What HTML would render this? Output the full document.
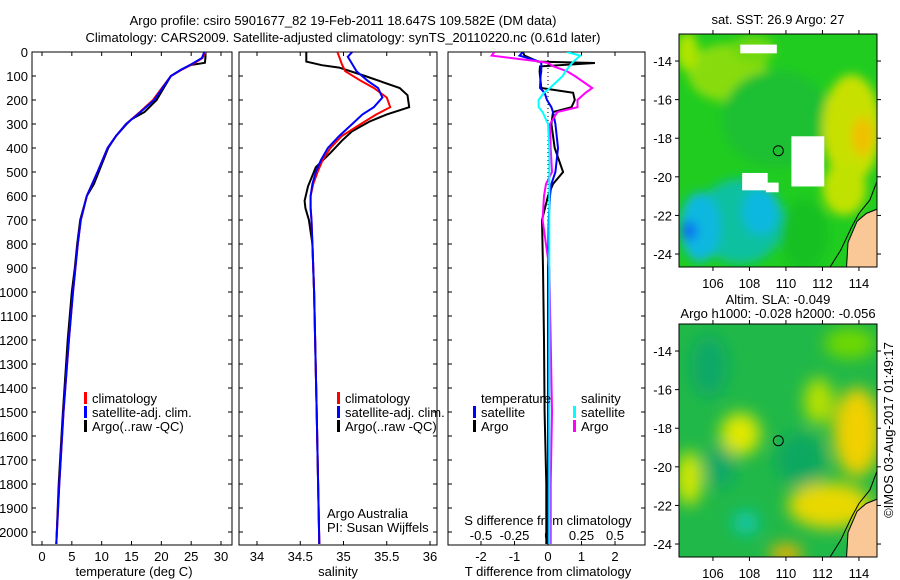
<!DOCTYPE html>
<html><head><meta charset="utf-8"><style>
html,body{margin:0;padding:0;background:#fff;}
svg{display:block;font-family:"Liberation Sans",sans-serif;}
text{font-size:13px;fill:#000;}
</style></head><body>
<svg id="fig" width="900" height="580" viewBox="0 0 900 580" xmlns="http://www.w3.org/2000/svg">
<defs>
<filter id="blur1" x="-50%" y="-50%" width="200%" height="200%"><feGaussianBlur stdDeviation="5"/></filter>
<filter id="blur2" x="-50%" y="-50%" width="200%" height="200%"><feGaussianBlur stdDeviation="8"/></filter>
<clipPath id="clipM1"><rect x="679" y="34" width="198" height="233"/></clipPath>
<clipPath id="clipM2"><rect x="679" y="324" width="198" height="233"/></clipPath>
<clipPath id="clipP1"><rect x="32" y="52" width="200" height="493"/></clipPath>
<clipPath id="clipP2"><rect x="239" y="52" width="198" height="493"/></clipPath>
<clipPath id="clipP3"><rect x="448" y="52" width="197" height="493"/></clipPath>
</defs>
<text x="343" y="25" text-anchor="middle">Argo profile: csiro 5901677_82 19-Feb-2011 18.647S 109.582E (DM data)</text>
<text x="343" y="42" text-anchor="middle">Climatology: CARS2009. Satellite-adjusted climatology: synTS_20110220.nc (0.61d later)</text>
<g id="g1"></g>
<g id="g2"></g>
<g id="g3"></g>
<g id="m1"></g>
<g id="m2"></g>
<text transform="translate(893,430) rotate(-90)" text-anchor="middle">©IMOS 03-Aug-2017 01:49:17</text>
</svg>
<script>
// ---- data ----
const tClimDepth = [0,25,50,75,100,150,200,250,300,350,400,500,600,700,800,900,1000,1200,1500,1800,2050];
const tClim      = [27.4,26.9,25.3,23.3,21.6,20.1,18.6,16.4,14.1,12.4,11.0,9.3,7.5,6.5,6.0,5.6,5.2,4.5,3.6,2.9,2.4];
const tSat       = [27.2,26.8,25.1,23.2,21.6,20.2,18.8,16.5,14.1,12.4,11.0,9.3,7.5,6.5,6.0,5.6,5.2,4.5,3.6,2.9,2.4];
const tArgoDepth = [0,20,45,55,75,100,150,200,250,280,300,350,400,500,550,600,700,800,900,1000,1200,1500,1800,2050];
const tArgo      = [27.4,27.4,27.3,24.8,23.3,21.6,20.4,19.2,17.2,15.0,14.2,12.4,11.1,9.5,8.7,7.5,6.4,5.9,5.5,5.0,4.3,3.5,2.8,2.4];

const sClimDepth = [0,20,50,80,120,150,190,230,260,300,350,400,450,500,550,600,650,700,800,1000,1500,2050];
const sClim      = [34.93,34.95,34.98,35.02,35.20,35.35,35.50,35.54,35.38,35.20,34.98,34.85,34.76,34.70,34.65,34.62,34.62,34.63,34.64,34.66,34.69,34.72];
const sSat       = [35.10,35.05,35.10,35.15,35.28,35.40,35.45,35.35,35.22,35.10,34.95,34.82,34.74,34.68,34.64,34.62,34.62,34.63,34.64,34.66,34.69,34.72];
const sArgoDepth = [0,40,55,65,100,150,180,230,260,290,330,370,420,480,560,620,650,700,800,1000,1500,2050];
const sArgo      = [34.57,34.57,34.75,34.95,35.25,35.65,35.74,35.76,35.50,35.30,35.10,34.98,34.85,34.68,34.59,34.55,34.56,34.60,34.64,34.66,34.69,34.72];

const dDepth  = [0,15,40,46,60,80,100,150,170,200,230,250,300,400,500,550,600,700,900,1200,1500,1800,2050];
const dTArgo  = [-0.75,-0.7,-0.3,1.4,-0.24,-0.25,-0.24,-0.2,0.75,0.8,0.7,0.15,0.1,0.2,0.45,0.15,0.0,-0.18,-0.15,-0.12,-0.1,-0.05,-0.05];
const dTSat   = [-0.75,-0.85,-0.25,-0.2,-0.2,-0.2,-0.22,-0.24,-0.1,-0.03,0.1,0.15,0.22,0.3,0.22,0.1,0.06,0.02,0.0,0.0,0.0,0.0,0.0];
const dSArgo  = [-0.40,-0.42,-0.06,0.00,0.04,0.14,0.20,0.33,0.28,0.22,0.22,0.07,0.015,0.02,0.03,-0.015,-0.03,-0.04,0.01,0.02,0.03,0.02,0.02];
const dSSat   = [0.14,0.24,0.19,0.18,0.16,0.13,0.11,0.015,-0.03,-0.07,-0.07,-0.04,0.0,0.01,0.01,0.01,0.01,0.01,0.01,0.01,0.01,0.01,0.01];

const depthTicks = [0,100,200,300,400,500,600,700,800,900,1000,1100,1200,1300,1400,1500,1600,1700,1800,1900,2000];
const tempTicks = [0,5,10,15,20,25,30];
const salTicks = [34,34.5,35,35.5,36];
const salTickLabels = ["34","34.5","35","35.5","36"];
const tDiffTicks = [-2,-1,0,1,2];
const sDiffTicks = [-0.5,-0.25,0,0.25,0.5];
const sDiffLabels = ["-0.5","-0.25","0","0.25","0.5"];
const lonTicks = [106,108,110,112,114];
const latTicks = [-14,-16,-18,-20,-22,-24];
const argoLon = 109.582, argoLat = -18.647;

// ---- helpers ----
const NS="http://www.w3.org/2000/svg";
function mk(tag, attrs, parent){const e=document.createElementNS(NS,tag);for(const k in attrs)e.setAttribute(k,attrs[k]);parent.appendChild(e);return e;}
function txt(s,x,y,anchor,parent){const t=mk('text',{x:x,y:y,'text-anchor':anchor||'middle'},parent);t.textContent=s;return t;}
const yD = d => 52 + d*0.24;
const xT = v => 42 + v*5.967;
const xS = v => 257 + (v-34)*86.5;
const xTd = v => 548 + v*33.5;
const xSd = v => 548 + v*134;

function poly(parent,xs,ds,xf,color,name,clip){
  const pts = xs.map((v,i)=>xf(v).toFixed(1)+','+yD(ds[i]).toFixed(1)).join(' ');
  const p=mk('polyline',{points:pts,fill:'none',stroke:color,'stroke-width':2,'clip-path':'url(#'+clip+')'},parent);
  
  
}
function frame(g,x0,x1,name){
  const r=mk('rect',{x:x0,y:52,width:x1-x0,height:493,fill:'none',stroke:'#000','stroke-width':1},g);
  
  
  depthTicks.forEach(d=>{
    mk('line',{x1:x0,x2:x0+4,y1:yD(d),y2:yD(d),stroke:'#000'},g);
    mk('line',{x1:x1,x2:x1-4,y1:yD(d),y2:yD(d),stroke:'#000'},g);
  });
}
function legend(g,x,y,items){
  items.forEach((it,i)=>{
    mk('rect',{x:x,y:y+i*14-6,width:3,height:12,fill:it[1]},g);
    const t=txt(it[0],x+8,y+i*14+5,'start',g);
    
    
  });
}

// ---- panel 1 ----
const g1=document.getElementById('g1');
frame(g1,32,232,'temperature-axes');
depthTicks.forEach(d=>{const t=txt(String(d),28,yD(d)+5,'end',g1);
  
  });
tempTicks.forEach(v=>{mk('line',{x1:xT(v),x2:xT(v),y1:545,y2:541,stroke:'#000'},g1);mk('line',{x1:xT(v),x2:xT(v),y1:52,y2:56,stroke:'#000'},g1);
  const t=txt(String(v),xT(v),561,'middle',g1);
  
  });
txt('temperature (deg C)',134,576,'middle',g1);
poly(g1,tArgo,tArgoDepth,xT,'#000','temp-argo-line','clipP1');
poly(g1,tClim,tClimDepth,xT,'#f00','temp-climatology-line','clipP1');
poly(g1,tSat,tClimDepth,xT,'#00f','temp-satellite-line','clipP1');
legend(g1,84,398,[['climatology','#f00'],['satellite-adj. clim.','#00f'],['Argo(..raw -QC)','#000']]);

// ---- panel 2 ----
const g2=document.getElementById('g2');
frame(g2,239,437,'salinity-axes');
salTicks.forEach((v,i)=>{mk('line',{x1:xS(v),x2:xS(v),y1:545,y2:541,stroke:'#000'},g2);mk('line',{x1:xS(v),x2:xS(v),y1:52,y2:56,stroke:'#000'},g2);
  const t=txt(salTickLabels[i],xS(v),561,'middle',g2);
  
  });
txt('salinity',338,576,'middle',g2);
poly(g2,sArgo,sArgoDepth,xS,'#000','sal-argo-line','clipP2');
poly(g2,sClim,sClimDepth,xS,'#f00','sal-climatology-line','clipP2');
poly(g2,sSat,sClimDepth,xS,'#00f','sal-satellite-line','clipP2');
legend(g2,337,398,[['climatology','#f00'],['satellite-adj. clim.','#00f'],['Argo(..raw -QC)','#000']]);
txt('Argo Australia',327,518,'start',g2);
txt('PI: Susan Wijffels',327,532,'start',g2);

// ---- panel 3 ----
const g3=document.getElementById('g3');
frame(g3,448,645,'difference-axes');
mk('line',{x1:548,x2:548,y1:52,y2:545,stroke:'#000','stroke-dasharray':'1,3'},g3);
tDiffTicks.forEach(v=>{mk('line',{x1:xTd(v),x2:xTd(v),y1:545,y2:541,stroke:'#000'},g3);
  const t=txt(String(v),xTd(v),561,'middle',g3);
  
  });
sDiffTicks.forEach((v,i)=>{mk('line',{x1:xSd(v),x2:xSd(v),y1:52,y2:56,stroke:'#000'},g3);
  const t=txt(sDiffLabels[i],xSd(v),540,'middle',g3);
  
  });
txt('S difference from climatology',548,525,'middle',g3);
txt('T difference from climatology',548,576,'middle',g3);
poly(g3,dTArgo,dDepth,xTd,'#000','tdiff-argo-line','clipP3');
poly(g3,dTSat,dDepth,xTd,'#00f','tdiff-satellite-line','clipP3');
poly(g3,dSArgo,dDepth,xSd,'#f0f','sdiff-argo-line','clipP3');
poly(g3,dSSat,dDepth,xSd,'#0ff','sdiff-satellite-line','clipP3');
txt('temperature',481,403,'start',g3);
legend(g3,473,412,[['satellite','#00f'],['Argo','#000']]);
txt('salinity',581,403,'start',g3);
legend(g3,573,412,[['satellite','#0ff'],['Argo','#f0f']]);

// ---- maps ----
const lonX = l => 679 + (l-104.14)*18.25;
function mapFrame(g,top,clip,blobs,base,title1,title2,holes,blurId){
  const latY = t => top + (-12.6 - t)*19.3;
  const inner=mk('g',{'clip-path':'url(#'+clip+')'},g);
  mk('rect',{x:679,y:top,width:198,height:233,fill:base},inner);
  const bg=mk('g',{filter:'url(#'+blurId+')'},inner);
  blobs.forEach(b=>mk('ellipse',{cx:lonX(b[0]),cy:latY(b[1]),rx:b[2]*18.25,ry:b[3]*19.3,fill:b[4]},bg));
  (holes||[]).forEach(h=>mk('rect',{x:lonX(h[0]),y:latY(h[1]),width:h[2]*18.25,height:h[3]*19.3,fill:'#fff'},inner));
  // land
  mk('path',{d:`M${lonX(113.3)},${latY(-25)} L${lonX(113.4)},${latY(-23.4)} L${lonX(113.9)},${latY(-22.3)} L${lonX(114.4)},${latY(-21.9)} L${lonX(115.2)},${latY(-21.6)} L${lonX(115.2)},${latY(-25)} Z`,fill:'#f9c896',stroke:'#000'},inner);
  mk('path',{d:`M${lonX(112.4)},${latY(-24.7)} L${lonX(113)},${latY(-23.8)} L${lonX(113.6)},${latY(-22.6)} L${lonX(114)},${latY(-21.9)} L${lonX(114.6)},${latY(-21.2)} L${lonX(115)},${latY(-20.2)}`,fill:'none',stroke:'#000'},inner);
  const r=mk('rect',{x:679,y:top,width:198,height:233,fill:'none',stroke:'#000'},g);
  
  
  lonTicks.forEach(l=>{mk('line',{x1:lonX(l),x2:lonX(l),y1:top,y2:top-4,stroke:'#000'},g);mk('line',{x1:lonX(l),x2:lonX(l),y1:top+233,y2:top+237,stroke:'#000'},g);
    const t=txt(String(l),lonX(l),top+254,'middle',g);
    
    });
  latTicks.forEach(t0=>{mk('line',{x1:679,x2:675,y1:latY(t0),y2:latY(t0),stroke:'#000'},g);mk('line',{x1:877,x2:881,y1:latY(t0),y2:latY(t0),stroke:'#000'},g);
    const t=txt(String(t0),672,latY(t0)+5,'end',g);
    
    });
  const c=mk('circle',{cx:lonX(argoLon),cy:latY(argoLat),r:5,fill:'none',stroke:'#000'},g);
  
  
  if(title2){txt(title1,778,top-20,'middle',g);txt(title2,778,top-6,'middle',g);}
  else txt(title1,778,top-10,'middle',g);
}
mapFrame(document.getElementById('m1'),34,'clipM1',[
  [106.8,-14.6,2.2,1.5,'#88dc10'],[104.6,-13.5,0.6,1,'#b0e400'],[108.2,-13.4,1.2,0.7,'#70d810'],
  [109.5,-17,3,2.5,'#1cc030'],
  [113.6,-17.5,1.6,2.8,'#c8e000'],[114.2,-17.9,0.6,1.0,'#f0c000'],[113.2,-20.6,1.2,1.4,'#c0e200'],
  [107.5,-22.3,2.4,2.2,'#10c0a0'],[105.3,-22.6,1.1,1.8,'#10b8e0'],[104.7,-22.8,0.45,0.5,'#1070f0'],
  [108.6,-21.8,1.0,1.2,'#10b8e0'],[111,-23,1.3,1.8,'#18c020']
],'#20cc20','sat. SST: 26.9 Argo: 27','',[
  [107.5,-13.15,2,0.45],[110.3,-17.9,1.8,2.6],[107.6,-19.8,1.4,0.9],[108.9,-20.3,0.7,0.5]],'blur1');
mapFrame(document.getElementById('m2'),324,'clipM2',[
  [107.5,-18.3,1.1,1.1,'#e0e800'],[113.9,-18.2,1.3,2.3,'#f0d000'],[111.8,-21.9,1.3,0.9,'#f0a800'],
  [112.4,-22,2.3,1.2,'#e8d800'],[104.7,-20.6,0.7,1.4,'#d8e800'],[110,-24.5,0.9,0.5,'#f0b000'],
  [106.4,-20,0.8,1.1,'#10a868'],[107.8,-22.9,0.7,0.6,'#10c8b0'],[105.8,-14.8,1,1.6,'#10a868'],
  [110.8,-19.6,1.4,1.4,'#10a860'],[111.8,-16.6,0.8,1.2,'#b8e000'],[113.5,-13.6,1.4,0.8,'#70d800']
],'#20b848','Altim. SLA: -0.049','Argo h1000: -0.028 h2000: -0.056',[],'blur2');
</script>
</body></html>
